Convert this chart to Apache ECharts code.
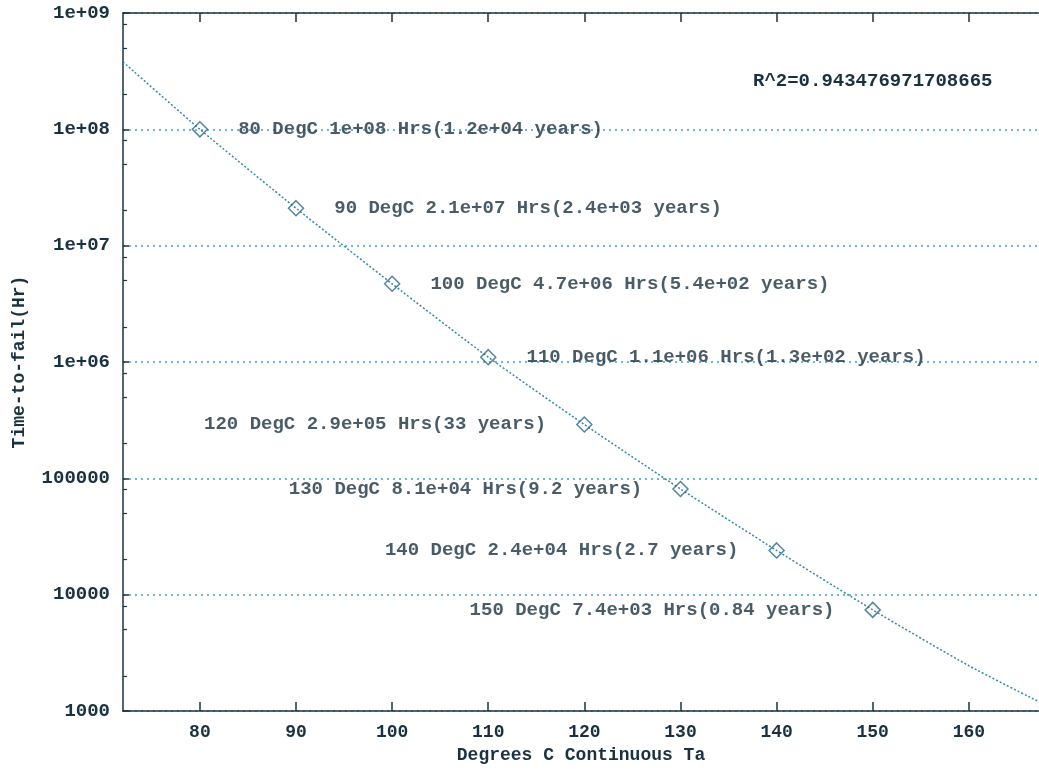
<!DOCTYPE html>
<html>
<head>
<meta charset="utf-8">
<script src="https://cdn.jsdelivr.net/npm/echarts@6/dist/echarts.min.js"></script>
<style>
html,body{margin:0;padding:0;background:#fff;}
#c{width:1039px;height:771px;}
</style>
</head>
<body>
<div id="c"></div>
<script>
// ---- data ----
const temps = [80, 90, 100, 110, 120, 130, 140, 150];
const hours = [1e8, 2.1e7, 4.7e6, 1.1e6, 2.9e5, 8.1e4, 2.4e4, 7.4e3];
const pointLabels = [
  "80 DegC 1e+08 Hrs(1.2e+04 years)",
  "90 DegC 2.1e+07 Hrs(2.4e+03 years)",
  "100 DegC 4.7e+06 Hrs(5.4e+02 years)",
  "110 DegC 1.1e+06 Hrs(1.3e+02 years)",
  "120 DegC 2.9e+05 Hrs(33 years)",
  "130 DegC 8.1e+04 Hrs(9.2 years)",
  "140 DegC 2.4e+04 Hrs(2.7 years)",
  "150 DegC 7.4e+03 Hrs(0.84 years)"
];
// fit curve (ends extend past the points)
const fitTemps = [72, 80, 90, 100, 110, 120, 130, 140, 150, 160, 167.3];
const fitHours = [3.8e8, 1e8, 2.1e7, 4.7e6, 1.1e6, 2.9e5, 8.1e4, 2.4e4, 7.4e3, 2.45e3, 1.2e3];
const xTicks = [80, 90, 100, 110, 120, 130, 140, 150, 160];
const yTickValues = [1e3, 1e4, 1e5, 1e6, 1e7, 1e8, 1e9];
const yTickLabels = ["1000", "10000", "100000", "1e+06", "1e+07", "1e+08", "1e+09"];
const yMinorTicks = [2e3,5e3,8e3,2e4,5e4,8e4,2e5,5e5,8e5,2e6,5e6,8e6,2e7,5e7,8e7,2e8,5e8,8e8];
const rSquaredText = "R^2=0.943476971708665";
const xTitle = "Degrees C Continuous Ta";
const yTitle = "Time-to-fail(Hr)";

// ---- styling ----
const FONT = "Liberation Mono";
const TXT = "#1a3240";
const AX = "#1d3340";
const GRIDC = "#3f9fcc";
const FW = 'bold';

const chart = echarts.init(document.getElementById('c'), null, {renderer: 'canvas'});

const scatterData = temps.map((t, i) => ({
  value: [t, hours[i]],
  label: {
    show: true,
    position: i < 4 ? 'right' : 'left',
    distance: 30,
    formatter: pointLabels[i]
  }
}));

const option = {
  backgroundColor: '#ffffff',
  animation: false,
  textStyle: {fontFamily: FONT, color: TXT},
  grid: {left: 123, right: 0, top: 13, bottom: 60, containLabel: false, outerBoundsMode: 'none'},
  xAxis: [{
    type: 'value', min: 72, max: 167.3, position: 'bottom',
    name: xTitle, nameLocation: 'middle', nameGap: 35,
    nameTextStyle: {fontFamily: FONT, fontSize: 18, fontWeight: FW, color: TXT},
    axisLine: {show: true, onZero: false, lineStyle: {color: AX, width: 1.5}},
    axisTick: {show: true, inside: true, length: 9, customValues: xTicks, lineStyle: {color: AX, width: 1.5}},
    axisLabel: {show: true, customValues: xTicks, fontFamily: FONT, fontSize: 18, fontWeight: FW, color: TXT, margin: 12},
    splitLine: {show: false}
  }, {
    type: 'value', min: 72, max: 167.3, position: 'top',
    axisLine: {show: true, onZero: false, lineStyle: {color: AX, width: 1.5}},
    axisTick: {show: true, inside: true, length: 9, customValues: xTicks, lineStyle: {color: AX, width: 1.5}},
    axisLabel: {show: false},
    splitLine: {show: false}
  }],
  yAxis: [{
    type: 'log', logBase: 10, min: 1e3, max: 1e9, position: 'left',
    name: yTitle, nameLocation: 'middle', nameGap: 95, nameRotate: 90,
    nameTextStyle: {fontFamily: FONT, fontSize: 18, fontWeight: FW, color: TXT},
    axisLine: {show: true, onZero: false, lineStyle: {color: AX, width: 1.5}},
    axisTick: {show: true, inside: true, length: 6, customValues: yTickValues, lineStyle: {color: AX, width: 1.5}},
    axisLabel: {
      show: true, customValues: yTickValues, fontFamily: FONT, fontSize: 19, fontWeight: FW, color: TXT, margin: 13,
      formatter: v => {
        const idx = yTickValues.findIndex(t => Math.abs(Math.log10(t) - Math.log10(v)) < 1e-6);
        return idx >= 0 ? yTickLabels[idx] : '';
      }
    },
    splitLine: {show: true, lineStyle: {color: GRIDC, type: [2, 4], width: 1.5}}
  }, {
    type: 'log', logBase: 10, min: 1e3, max: 1e9, position: 'left',
    axisLine: {show: false},
    axisTick: {show: true, inside: true, length: 4, customValues: yMinorTicks, lineStyle: {color: AX, width: 1.2}},
    axisLabel: {show: false},
    splitLine: {show: false}
  }],
  series: [{
    type: 'line',
    xAxisIndex: 0, yAxisIndex: 0,
    data: fitTemps.map((t, i) => [t, fitHours[i]]),
    showSymbol: false,
    smooth: 0.2,
    silent: true,
    lineStyle: {color: '#3486ad', width: 1.5, type: [2, 2]},
    z: 2
  }, {
    type: 'scatter',
    xAxisIndex: 0, yAxisIndex: 0,
    data: scatterData,
    symbol: 'diamond',
    symbolSize: 15,
    itemStyle: {color: 'rgba(0,0,0,0)', borderColor: '#2b6682', borderWidth: 1.5},
    label: {fontFamily: FONT, fontSize: 19, fontWeight: FW, color: TXT},
    z: 3
  }],
  graphic: [{
    type: 'text',
    left: 753, top: 72,
    style: {text: rSquaredText, font: 'bold 19px "Liberation Mono"', fill: TXT}
  }]
};
chart.setOption(option);
</script>
</body>
</html>
